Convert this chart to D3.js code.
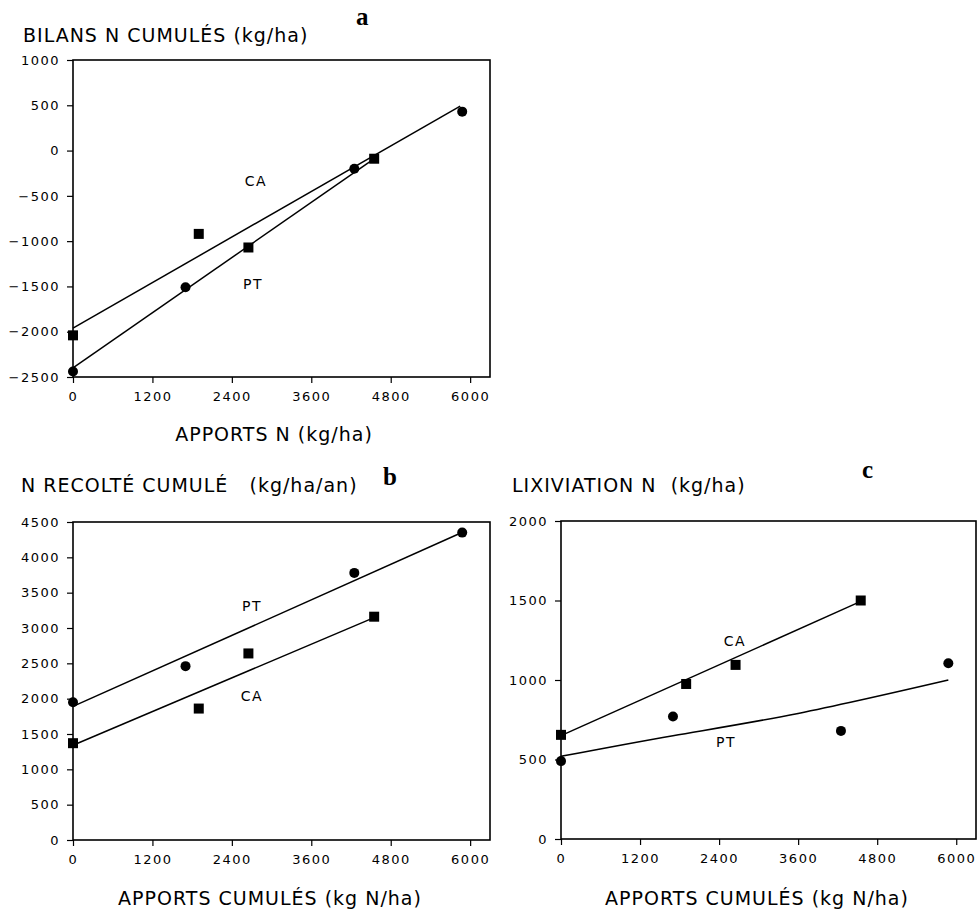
<!DOCTYPE html>
<html>
<head>
<meta charset="utf-8">
<script src="https://cdn.jsdelivr.net/npm/d3@7"></script>
<style>
  body { margin: 0; background: #fff; }
  text { font-family: "DejaVu Sans", sans-serif; fill: #000; }
  .titre { font-size: 19px; letter-spacing: 1px; }
  .lettre { font-family: "Liberation Serif", serif; font-weight: bold; font-size: 25px; }
  .lab { font-size: 14px; letter-spacing: 1.5px; }
</style>
</head>
<body>
<div id="chart"></div>
<script>
// Abscisses (apports cumulés, kg N/ha)
const xPT = [0, 1700, 4250, 5880]
const xCA = [0, 1900, 2650, 4550]

// a - bilans N cumulés
const bilanPT = [-2440, -1510, -200, 430]
const bilanCA = [-2040, -920, -1070, -90]
const bilanFitCA = [[0, -1960], [5850, 490]]
const bilanFitPT = [[0, -2400], [4530, -100]]

// b - N récolté cumulé
const recoltePT = [1950, 2460, 3780, 4350]
const recolteCA = [1370, 1860, 2640, 3160]
const recolteFitPT = [[0, 1890], [5850, 4340]]
const recolteFitCA = [[0, 1340], [4530, 3140]]

// c - lixiviation N
const lixPT = [490, 770, 680, 1105]
const lixCA = [655, 975, 1095, 1500]
const lixFitCA = [[0, 650], [4500, 1485]]
const lixFitPT = [[0, 520], [1700, 650], [3600, 790], [5880, 1000]]

// Graduations
const xTicks = [0, 1200, 2400, 3600, 4800, 6000]
const yTicksA = [-2500, -2000, -1500, -1000, -500, 0, 500, 1000]
const yTicksB = [0, 500, 1000, 1500, 2000, 2500, 3000, 3500, 4000, 4500]
const yTicksC = [0, 500, 1000, 1500, 2000]

const svg = d3.select("#chart")
  .append("svg")
  .attr("width", 978)
  .attr("height", 910)

// Dessine un panneau
let panel = (p) => {
  const x = d3.scaleLinear().domain([0, 6300]).range([p.left, p.right])
  const y = d3.scaleLinear().domain(p.yDomain).range([p.bottom, p.top])
  const g = svg.append("g")

  // Cadre
  g.append("rect")
    .attr("x", p.left).attr("y", p.top)
    .attr("width", p.right - p.left).attr("height", p.bottom - p.top)
    .attr("fill", "none").attr("stroke", "#000").attr("stroke-width", 1.6)

  // Axes
  const ax = g.append("g")
    .attr("transform", "translate(0," + p.bottom + ")")
    .call(d3.axisBottom(x).tickValues(xTicks).tickFormat(d3.format("d")).tickSize(6).tickPadding(9))
  const ay = g.append("g")
    .attr("transform", "translate(" + p.left + ",0)")
    .call(d3.axisLeft(y).tickValues(p.yTicks).tickFormat(d3.format("d")).tickSize(6).tickPadding(7))
  ;[ax, ay].forEach(a => {
    a.attr("font-family", null).attr("font-size", null)
    a.select(".domain").remove()
    a.selectAll("line").attr("stroke-width", 1.2)
    a.selectAll("text")
      .style("font-family", "'DejaVu Sans', sans-serif")
      .style("font-size", "13px")
      .style("letter-spacing", "1.5px")
  })

  // Droites
  const line = d3.line().x(d => x(d[0])).y(d => y(d[1])).curve(d3.curveNatural)
  p.fits.forEach(f => {
    g.append("path").datum(f).attr("d", line)
      .attr("fill", "none").attr("stroke", "#000").attr("stroke-width", 1.5)
  })

  // Points PT (ronds) et CA (carres)
  g.selectAll(".pt").data(d3.zip(xPT, p.pt)).enter()
    .append("circle")
    .attr("cx", d => x(d[0])).attr("cy", d => y(d[1])).attr("r", 5)
    .attr("fill", "#000")
  g.selectAll(".ca").data(d3.zip(xCA, p.ca)).enter()
    .append("rect")
    .attr("x", d => x(d[0]) - 5).attr("y", d => y(d[1]) - 5)
    .attr("width", 10).attr("height", 10)
    .attr("fill", "#000")

  // Etiquettes
  p.labels.forEach(l => {
    g.append("text").attr("class", "lab").attr("x", l[0]).attr("y", l[1])
      .attr("text-anchor", "middle").text(l[2])
  })
  g.append("text").attr("class", "titre").attr("x", p.titleX).attr("y", p.titleY).text(p.title)
  g.append("text").attr("class", "lettre").attr("x", p.letterX).attr("y", p.letterY).text(p.letter)
  g.append("text").attr("class", "titre").attr("x", p.xlabX).attr("y", p.xlabY)
    .attr("text-anchor", "middle").text(p.xlab)
}

panel({
  left: 73, right: 490, top: 60, bottom: 377,
  yDomain: [-2500, 1000], yTicks: yTicksA,
  pt: bilanPT, ca: bilanCA, fits: [bilanFitCA, bilanFitPT],
  labels: [[256, 186, "CA"], [253, 289, "PT"]],
  title: "BILANS N CUMULÉS (kg/ha)", titleX: 23, titleY: 42,
  letter: "a", letterX: 356, letterY: 25,
  xlab: "APPORTS N (kg/ha)", xlabX: 274, xlabY: 441
})

panel({
  left: 73, right: 490, top: 522, bottom: 840,
  yDomain: [0, 4500], yTicks: yTicksB,
  pt: recoltePT, ca: recolteCA, fits: [recolteFitPT, recolteFitCA],
  labels: [[252, 611, "PT"], [252, 701, "CA"]],
  title: "N RECOLTÉ CUMULÉ\u00a0\u00a0 (kg/ha/an)", titleX: 21, titleY: 492,
  letter: "b", letterX: 383, letterY: 485,
  xlab: "APPORTS CUMULÉS (kg N/ha)", xlabX: 270, xlabY: 905
})

panel({
  left: 561, right: 976, top: 521, bottom: 839,
  yDomain: [0, 2000], yTicks: yTicksC,
  pt: lixPT, ca: lixCA, fits: [lixFitCA, lixFitPT],
  labels: [[735, 646, "CA"], [726, 747, "PT"]],
  title: "LIXIVIATION N\u00a0 (kg/ha)", titleX: 512, titleY: 492,
  letter: "c", letterX: 862, letterY: 478,
  xlab: "APPORTS CUMULÉS (kg N/ha)", xlabX: 757, xlabY: 905
})
</script>
</body>
</html>
